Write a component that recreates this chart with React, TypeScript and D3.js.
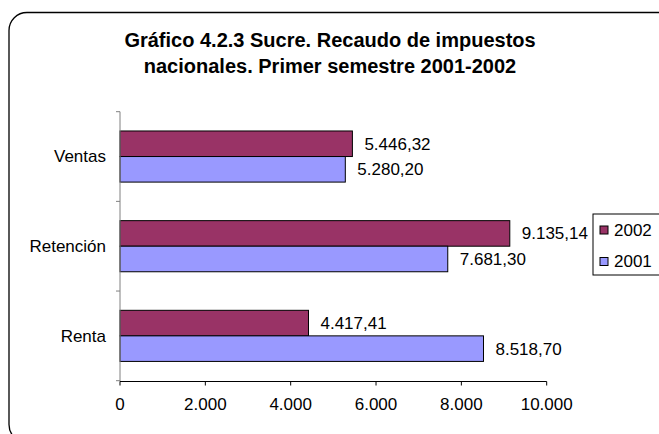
import React from 'react';
import * as d3 from 'd3';

const categories = ['Ventas', 'Retención', 'Renta'];
const series = ['2002', '2001'];
const values2002 = [5446.32, 9135.14, 4417.41];
const values2001 = [5280.2, 7681.3, 8518.7];
const xTicks = [0, 2000, 4000, 6000, 8000, 10000];
const titleLines = ['Gráfico 4.2.3 Sucre. Recaudo de impuestos', 'nacionales. Primer semestre 2001-2002'];

const colors: Record<string, string> = { '2002': '#993366', '2001': '#9999FF' };
const font = 'Arial, "Liberation Sans", sans-serif';

const locale = d3.formatLocale({ decimal: ',', thousands: '.', grouping: [3], currency: ['', ''] });
const fmtTick = locale.format(',.0f');
const fmtVal = locale.format(',.2f');

export default function App() {
  const x = d3.scaleLinear().domain([0, 10000]).range([120, 546.7]);
  const y = d3.scaleBand().domain(categories).range([111.7, 380.7]).paddingInner(0.43).paddingOuter(0.215);
  const ySub = d3.scaleBand().domain(series).range([0, y.bandwidth()]);
  const bounds = d3.scaleBand().domain(categories).range([111.7, 380.7]);

  const rows = categories.map((c, i) => ({ cat: c, vals: { '2002': values2002[i], '2001': values2001[i] } as Record<string, number> }));

  return (
    <svg width={659} height={434} style={{ position: 'absolute', left: 0, top: 0 }} fontFamily={font}>
      <rect x={0} y={0} width={659} height={434} fill="#fff" />
      <rect x={9} y={12.5} width={670} height={430} rx={18} fill="#fff" stroke="#000" strokeWidth={1.3} />

      {titleLines.map((t, i) => (
        <text key={i} x={330} y={47 + i * 26} textAnchor="middle" fontSize={20} fontWeight="bold" fill="#000">{t}</text>
      ))}

      {/* bars */}
      {rows.map(r => (
        <g key={r.cat}>
          {series.map(s => {
            const y0 = (y(r.cat) as number) + (ySub(s) as number);
            const h = ySub.bandwidth();
            return (
              <g key={s}>
                <rect x={x(0)} y={y0} width={x(r.vals[s]) - x(0)} height={h} fill={colors[s]} stroke="#000" strokeWidth={1} />
                <text x={x(r.vals[s]) + 12} y={y0 + h / 2} dy="0.35em" fontSize={17} fill="#000">{fmtVal(r.vals[s])}</text>
              </g>
            );
          })}
        </g>
      ))}

      {/* y axis */}
      <line x1={x(0)} x2={x(0)} y1={111.7} y2={381.5} stroke="#808080" strokeWidth={1} />
      {categories.map(c => (
        <g key={c}>
          <line x1={x(0) - 4} x2={x(0)} y1={bounds(c) as number} y2={bounds(c) as number} stroke="#808080" />
          <text x={106} y={(bounds(c) as number) + bounds.bandwidth() / 2} dy="0.35em" textAnchor="end" fontSize={17} fill="#000">{c}</text>
        </g>
      ))}
      <line x1={x(0) - 4} x2={x(0)} y1={380.7} y2={380.7} stroke="#808080" />

      {/* x axis */}
      <line x1={x(0)} x2={x(10000)} y1={381.5} y2={381.5} stroke="#000" strokeWidth={1} />
      {xTicks.map(t => (
        <g key={t}>
          <line x1={x(t)} x2={x(t)} y1={381.5} y2={385.5} stroke="#000" />
          <text x={x(t)} y={404} dy="0.35em" textAnchor="middle" fontSize={17} fill="#000">{fmtTick(t)}</text>
        </g>
      ))}

      {/* legend */}
      <rect x={593} y={214} width={80} height={61} fill="#fff" stroke="#000" strokeWidth={1} />
      {series.map((s, i) => (
        <g key={s}>
          <rect x={600} y={226 + i * 31.5} width={8} height={8} fill={colors[s]} stroke="#000" strokeWidth={1} />
          <text x={614} y={230 + i * 31.5} dy="0.35em" fontSize={17} fill="#000">{s}</text>
        </g>
      ))}
    </svg>
  );
}
